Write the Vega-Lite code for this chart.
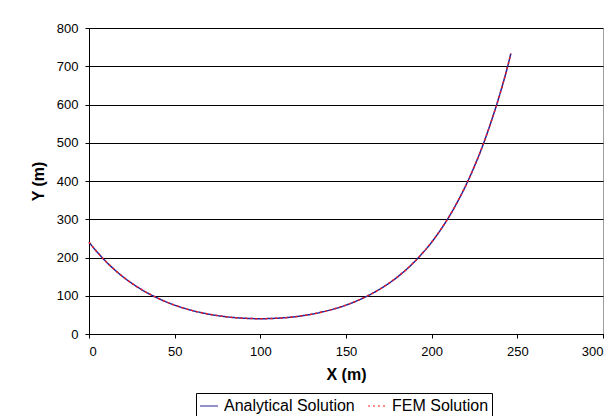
{
  "$schema": "https://vega.github.io/schema/vega-lite/v6.json",
  "width": 514,
  "height": 306,
  "autosize": {"type": "none"},
  "padding": {"left": 89, "top": 28, "right": 12, "bottom": 82},
  "background": "white",
  "config": {
    "font": "Liberation Sans",
    "view": {"stroke": "#a0a0a0", "strokeWidth": 1},
    "axis": {
      "labelFont": "Liberation Sans",
      "labelFontSize": 13,
      "labelColor": "black",
      "titleFont": "Liberation Sans",
      "titleFontSize": 16,
      "titleFontWeight": "bold",
      "titleColor": "black",
      "domainColor": "black",
      "tickColor": "black",
      "tickSize": 4,
      "labelPadding": 7
    },
    "legend": {
      "title": null,
      "orient": "none",
      "legendX": 107,
      "legendY": 365,
      "direction": "horizontal",
      "strokeColor": "black",
      "fillColor": "white",
      "padding": 3,
      "labelFont": "Liberation Sans",
      "labelFontSize": 16,
      "labelColor": "black",
      "labelOffset": 5,
      "columnPadding": 10,
      "symbolType": "stroke",
      "symbolSize": 324,
      "symbolStrokeWidth": 1.2
    }
  },
  "data": {
    "values": [
      {"x": 0, "y": 240, "series": "Analytical Solution"},
      {"x": 5, "y": 213, "series": "Analytical Solution"},
      {"x": 10, "y": 189, "series": "Analytical Solution"},
      {"x": 20, "y": 149, "series": "Analytical Solution"},
      {"x": 30, "y": 118, "series": "Analytical Solution"},
      {"x": 40, "y": 94, "series": "Analytical Solution"},
      {"x": 50, "y": 75.5, "series": "Analytical Solution"},
      {"x": 60, "y": 61.8, "series": "Analytical Solution"},
      {"x": 70, "y": 51.8, "series": "Analytical Solution"},
      {"x": 80, "y": 45.1, "series": "Analytical Solution"},
      {"x": 90, "y": 41.3, "series": "Analytical Solution"},
      {"x": 100, "y": 40, "series": "Analytical Solution"},
      {"x": 110, "y": 41.3, "series": "Analytical Solution"},
      {"x": 120, "y": 45.1, "series": "Analytical Solution"},
      {"x": 130, "y": 51.8, "series": "Analytical Solution"},
      {"x": 140, "y": 61.8, "series": "Analytical Solution"},
      {"x": 150, "y": 75.5, "series": "Analytical Solution"},
      {"x": 160, "y": 94, "series": "Analytical Solution"},
      {"x": 170, "y": 118, "series": "Analytical Solution"},
      {"x": 180, "y": 149, "series": "Analytical Solution"},
      {"x": 190, "y": 189, "series": "Analytical Solution"},
      {"x": 195, "y": 213, "series": "Analytical Solution"},
      {"x": 200, "y": 240, "series": "Analytical Solution"},
      {"x": 205, "y": 271, "series": "Analytical Solution"},
      {"x": 210, "y": 305.6, "series": "Analytical Solution"},
      {"x": 215, "y": 345, "series": "Analytical Solution"},
      {"x": 220, "y": 389, "series": "Analytical Solution"},
      {"x": 225, "y": 439, "series": "Analytical Solution"},
      {"x": 230, "y": 495, "series": "Analytical Solution"},
      {"x": 235, "y": 559, "series": "Analytical Solution"},
      {"x": 240, "y": 630, "series": "Analytical Solution"},
      {"x": 245, "y": 711, "series": "Analytical Solution"},
      {"x": 246.2, "y": 733, "series": "Analytical Solution"},
      {"x": 0, "y": 240, "series": "FEM Solution"},
      {"x": 5, "y": 213, "series": "FEM Solution"},
      {"x": 10, "y": 189, "series": "FEM Solution"},
      {"x": 20, "y": 149, "series": "FEM Solution"},
      {"x": 30, "y": 118, "series": "FEM Solution"},
      {"x": 40, "y": 94, "series": "FEM Solution"},
      {"x": 50, "y": 75.5, "series": "FEM Solution"},
      {"x": 60, "y": 61.8, "series": "FEM Solution"},
      {"x": 70, "y": 51.8, "series": "FEM Solution"},
      {"x": 80, "y": 45.1, "series": "FEM Solution"},
      {"x": 90, "y": 41.3, "series": "FEM Solution"},
      {"x": 100, "y": 40, "series": "FEM Solution"},
      {"x": 110, "y": 41.3, "series": "FEM Solution"},
      {"x": 120, "y": 45.1, "series": "FEM Solution"},
      {"x": 130, "y": 51.8, "series": "FEM Solution"},
      {"x": 140, "y": 61.8, "series": "FEM Solution"},
      {"x": 150, "y": 75.5, "series": "FEM Solution"},
      {"x": 160, "y": 94, "series": "FEM Solution"},
      {"x": 170, "y": 118, "series": "FEM Solution"},
      {"x": 180, "y": 149, "series": "FEM Solution"},
      {"x": 190, "y": 189, "series": "FEM Solution"},
      {"x": 195, "y": 213, "series": "FEM Solution"},
      {"x": 200, "y": 240, "series": "FEM Solution"},
      {"x": 205, "y": 271, "series": "FEM Solution"},
      {"x": 210, "y": 305.6, "series": "FEM Solution"},
      {"x": 215, "y": 345, "series": "FEM Solution"},
      {"x": 220, "y": 389, "series": "FEM Solution"},
      {"x": 225, "y": 439, "series": "FEM Solution"},
      {"x": 230, "y": 495, "series": "FEM Solution"},
      {"x": 235, "y": 559, "series": "FEM Solution"},
      {"x": 240, "y": 630, "series": "FEM Solution"},
      {"x": 245, "y": 711, "series": "FEM Solution"},
      {"x": 246.2, "y": 733, "series": "FEM Solution"}
    ]
  },
  "mark": {"type": "line", "interpolate": "monotone", "strokeWidth": 1.5},
  "encoding": {
    "x": {
      "field": "x",
      "type": "quantitative",
      "scale": {"domain": [0, 300], "nice": false},
      "axis": {"values": [0, 50, 100, 150, 200, 250, 300], "grid": false, "title": "X (m)", "titlePadding": 8}
    },
    "y": {
      "field": "y",
      "type": "quantitative",
      "scale": {"domain": [0, 800], "nice": false},
      "axis": {"values": [0, 100, 200, 300, 400, 500, 600, 700, 800], "grid": true, "gridColor": "black", "gridOpacity": 1, "gridWidth": 1, "title": "Y (m)", "titlePadding": 10}
    },
    "color": {
      "field": "series",
      "type": "nominal",
      "scale": {"domain": ["Analytical Solution", "FEM Solution"], "range": ["#24249a", "#ff1a1a"]}
    },
    "strokeDash": {
      "field": "series",
      "type": "nominal",
      "scale": {"domain": ["Analytical Solution", "FEM Solution"], "range": [[1, 0], [2, 3]]}
    }
  }
}
